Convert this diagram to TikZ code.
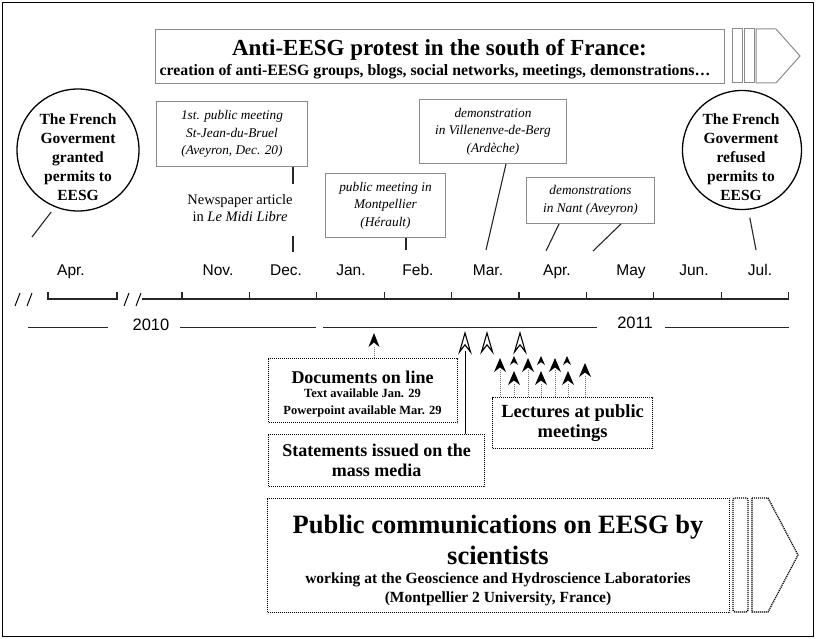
\documentclass[tikz,border=0pt]{standalone}
\usepackage{fontspec}
\setmainfont{Liberation Serif}
\newfontfamily\sansf{Liberation Sans}
\usetikzlibrary{calc}
\newcommand{\headfill}[4]{%
  \fill[black] (#1,#2) -- ({#1-#3/2},{#2+#4}) -- (#1,{#2+0.68*#4}) -- ({#1+#3/2},{#2+#4}) -- cycle;}
\newcommand{\headopen}[4]{%
  \filldraw[fill=white, draw=black, line width=1.1pt, line join=miter] (#1,#2) -- ({#1-#3/2},{#2+#4}) -- (#1,{#2+0.62*#4}) -- ({#1+#3/2},{#2+#4}) -- cycle;}
\begin{document}
\begin{tikzpicture}[x=1pt,y=-1pt,
  graybox/.style={draw=black!45, line width=1pt, fill=white, inner sep=0pt},
  dotbox/.style={draw=black, line width=1.3pt, dash pattern=on 1.1pt off 0.9pt, inner sep=0pt},
  conn/.style={draw=black!85, line width=1.1pt},
  tl/.style={draw=black!85, line width=1.3pt},
  month/.style={font=\sansf\fontsize{15.5}{18}\selectfont, anchor=base, inner sep=0pt},
  yr/.style={font=\sansf\fontsize{16.5}{18}\selectfont, inner sep=0pt},
  itl/.style={font=\itshape\fontsize{13.3}{17.5}\selectfont, align=center, inner sep=0pt},
  circtxt/.style={font=\bfseries\fontsize{15.5}{19}\selectfont, align=center, inner sep=0pt},
  bigb/.style={font=\bfseries\fontsize{18}{20}\selectfont, align=center, inner sep=0pt},
  dotshaft/.style={draw=black!55, line width=1pt, dash pattern=on 1pt off 1pt},
]
\useasboundingbox (0,0) rectangle (816,639);
\draw[line width=1.5pt] (2.5,2.5) rectangle (813.5,636.5);

% top banner
\node[graybox, anchor=north west, minimum width=569pt, minimum height=54pt] (ban) at (155,29) {};
\node[font=\bfseries\fontsize{23}{26}\selectfont, inner sep=0pt] (bant) at (439.5,50) {Anti-EESG protest in the south of France:};
\node[font=\bfseries\fontsize{15.8}{16}\selectfont, inner sep=0pt] (bans) at (435,72) {creation of  anti-EESG groups, blogs, social networks, meetings, demonstrations…};
\draw[graybox] (732,29) rectangle (742,83);
\draw[graybox] (744,29) rectangle (754,83);
\draw[graybox] (756,29) -- (776,29) -- (800,56) -- (776,83) -- (756,83) -- cycle;

% circles
\node[circle, draw, line width=1.3pt, minimum size=122pt, inner sep=0pt] (gl) at (78,150) {};
\node[circtxt] (glt) at (78,157) {The French\\Goverment\\granted\\permits to\\EESG};
\node[circle, draw, line width=1.3pt, minimum size=119pt, inner sep=0pt] (gr) at (742,150) {};
\node[circtxt] (grt) at (741,157) {The French\\Goverment\\refused\\permits to\\EESG};
\coordinate (glend) at (32,237);
\draw[conn, shorten <=6pt] (gl.-112) -- (glend);
\coordinate (grend) at (756,250);
\draw[conn, shorten <=8pt] (gr.-84) -- (grend);

% event boxes
\node[graybox, itl, anchor=north west, minimum width=151pt, minimum height=65pt] (b1) at (156,101) {1st. public meeting\\St-Jean-du-Bruel\\(Aveyron, Dec. 20)};
\coordinate (k1) at (293,184);
\draw[conn] (b1.south -| k1) -- (k1);
\node[font=\fontsize{14.5}{17.5}\selectfont, align=center, inner sep=0pt] (np) at (240,208) {Newspaper article\\in \textit{Le Midi Libre}};
\coordinate (k2) at (293,236);
\coordinate (k3) at (293,252);
\draw[conn] (k2) -- (k3);

\node[graybox, itl, anchor=north west, minimum width=120pt, minimum height=64pt] (mp) at (325,173) {public meeting in\\Montpellier\\(Hérault)};
\coordinate (k4) at (406,250);
\draw[conn] (mp.south -| k4) -- (k4);

\node[graybox, itl, anchor=north west, minimum width=147pt, minimum height=64pt] (vb) at (419,99) {demonstration\\in Villenenve-de-Berg\\(Ardèche)};
\coordinate (k5a) at (506,0);
\coordinate (k5) at (486,250);
\draw[conn] (vb.south -| k5a) -- (k5);

\node[graybox, itl, anchor=north west, minimum width=128pt, minimum height=46pt] (nb) at (526,177) {demonstrations\\in Nant (Aveyron)};
\coordinate (k6a) at (559,0);
\coordinate (k6) at (546,251);
\draw[conn] (nb.south -| k6a) -- (k6);
\coordinate (k7a) at (621,0);
\coordinate (k7) at (593,251);
\draw[conn] (nb.south -| k7a) -- (k7);

% months
\node[month] (m1) at (71,275.5) {Apr.};
\node[month] (m2) at (218,275.5) {Nov.};
\node[month] (m3) at (286,275.5) {Dec.};
\node[month] (m4) at (351,275.5) {Jan.};
\node[month] (m5) at (418,275.5) {Feb.};
\node[month] (m6) at (488,275.5) {Mar.};
\node[month] (m7) at (557,275.5) {Apr.};
\node[month] (m8) at (631,275.5) {May};
\node[month] (m9) at (694,275.5) {Jun.};
\node[month] (m10) at (760,275.5) {Jul.};

% timeline
\draw[line width=1pt] (15,306) -- (20,293);
\draw[line width=1pt] (27,306) -- (32,293);
\draw[line width=1pt] (124,306) -- (129,293);
\draw[line width=1pt] (136,306) -- (141,293);
\draw[tl] (48,292) -- (48,299) -- (117,299) -- (117,292);
\draw[tl] (142,299) -- (789,299);
\foreach \i in {0,...,9} \draw[tl] ({182+67.4*\i},299) -- ++(0,-7);

% years
\draw[tl, line width=1pt] (28,327) -- (108,327);
\node[yr] (y1) at (151,325) {2010};
\draw[tl, line width=1pt] (180,327) -- (316,327);
\draw[tl, line width=1pt] (323,327) -- (597,327);
\node[yr] (y2) at (635,323) {2011};
\draw[tl, line width=1pt] (665,327) -- (789,327);

% documents
\node[dotbox, anchor=north west, minimum width=189pt, minimum height=64pt] (doc) at (268,358) {};
\node[font=\bfseries\fontsize{18}{20}\selectfont, inner sep=0pt] (doct) at (362.5,377) {Documents on line};
\node[font=\bfseries\fontsize{12.5}{16.5}\selectfont, align=center, inner sep=0pt] (docs) at (362.5,403) {Text available Jan. 29\\Powerpoint available Mar. 29};
\coordinate (dtip) at (374,346);
\draw[dotshaft] (doc.north -| dtip) -- (dtip);
\headfill{374}{333}{11}{14}

% statements
\node[dotbox, bigb, anchor=north west, minimum width=216pt, minimum height=52pt] (st) at (268,434) {Statements issued on the\\mass media};
\coordinate (h1) at (465,351);
\draw[line width=0.9pt] (st.north -| h1) -- (h1);
\headopen{465}{333}{11}{19}
\headopen{487}{333}{11}{19}
\headopen{520}{333}{11}{19}

% lectures
\node[dotbox, bigb, font=\bfseries\fontsize{18.5}{20}\selectfont, anchor=north west, minimum width=160pt, minimum height=51pt] (lec) at (492,397) {Lectures at public\\meetings};
\foreach \x/\y in {500/370, 514/383, 528/370, 541/383, 555/370, 568/383, 585/375} {
  \coordinate (l\x) at (\x,\y);
  \draw[dotshaft] (lec.north -| l\x) -- (l\x);
}
\headfill{500}{358}{12}{14}
\headfill{528}{358}{12}{14}
\headfill{555}{358}{12}{14}
\headfill{585}{363}{12}{14}
\headfill{514}{371}{12}{14}
\headfill{541}{371}{12}{14}
\headfill{568}{371}{12}{14}
\headfill{514}{356}{8}{9}
\headfill{541}{356}{8}{9}
\headfill{567}{356}{8}{9}

% public communications
\node[dotbox, anchor=north west, minimum width=462pt, minimum height=114pt] (pc) at (267,498) {};
\node[font=\bfseries\fontsize{26.5}{31}\selectfont, align=center, inner sep=0pt] (pct) at (498,540) {Public communications on EESG by\\scientists};
\node[font=\bfseries\fontsize{15.5}{19}\selectfont, align=center, inner sep=0pt] (pcs) at (498,589) {working at the Geoscience and Hydroscience Laboratories\\(Montpellier 2 University, France)};
\draw[dotbox, rounded corners=2pt] (733,498) rectangle (748,612);
\draw[dotbox] (752,498) -- (768,498) -- (798,555) -- (768,612) -- (752,612) -- cycle;
\end{tikzpicture}
\end{document}
